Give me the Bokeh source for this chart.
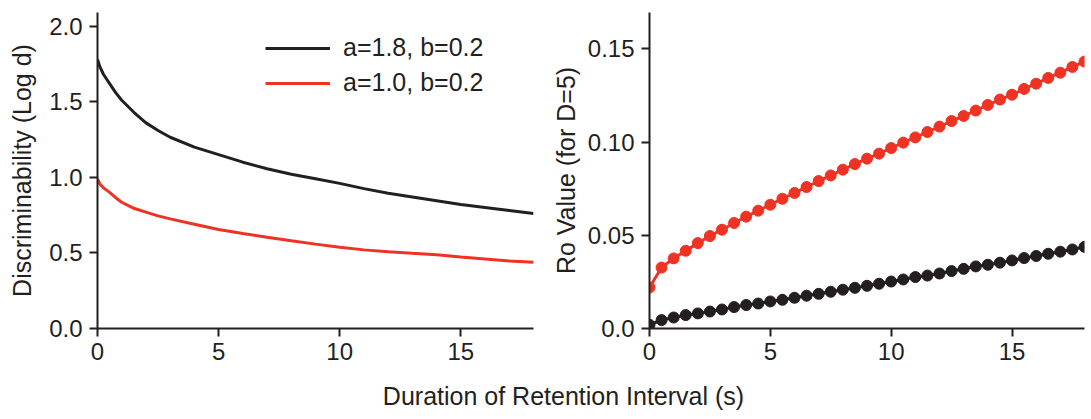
from bokeh.plotting import figure
from bokeh.layouts import row, column
from bokeh.models import Legend, LegendItem, Label, FixedTicker, Range1d, NumeralTickFormatter
from bokeh.embed import file_html
from bokeh.resources import INLINE

# ---- data ----
t_curve = [0, 0.1, 0.25, 0.5, 0.75, 1, 1.5, 2, 2.5, 3, 4, 5, 6, 7, 8, 9, 10, 11, 12, 13, 14, 15, 16, 17, 18]
disc_a18 = [1.78, 1.73, 1.68, 1.62, 1.56, 1.51, 1.43, 1.36, 1.31, 1.265, 1.20, 1.15, 1.10, 1.057, 1.02, 0.99,
            0.96, 0.925, 0.895, 0.87, 0.845, 0.82, 0.80, 0.78, 0.76]
disc_a10 = [0.99, 0.955, 0.93, 0.90, 0.865, 0.835, 0.795, 0.77, 0.745, 0.725, 0.69, 0.655, 0.628, 0.603, 0.58,
            0.558, 0.537, 0.52, 0.508, 0.497, 0.487, 0.473, 0.46, 0.447, 0.438]

t_dots = [0, 0.5, 1, 1.5, 2, 2.5, 3, 3.5, 4, 4.5, 5, 5.5, 6, 6.5, 7, 7.5, 8, 8.5, 9, 9.5, 10, 10.5, 11, 11.5,
          12, 12.5, 13, 13.5, 14, 14.5, 15, 15.5, 16, 16.5, 17, 17.5, 18]
ro_red = [0.022, 0.0327, 0.0376, 0.0417, 0.0458, 0.0496, 0.053, 0.0566, 0.060, 0.0632, 0.0664, 0.0696, 0.0727,
          0.0759, 0.0791, 0.0821, 0.0852, 0.0882, 0.0911, 0.0938, 0.0968, 0.0997, 0.1025, 0.1054, 0.1083, 0.1113,
          0.114, 0.1169, 0.1199, 0.1228, 0.1254, 0.1285, 0.1313, 0.1344, 0.1372, 0.1403, 0.1432]
ro_black = [0.002, 0.0045, 0.0059, 0.0072, 0.0081, 0.0091, 0.0102, 0.0115, 0.0126, 0.0134, 0.0145, 0.0154, 0.0165,
            0.0176, 0.0186, 0.0197, 0.0208, 0.0218, 0.0229, 0.024, 0.0252, 0.0263, 0.0276, 0.0284, 0.0295, 0.0308,
            0.032, 0.0333, 0.0342, 0.0353, 0.0365, 0.0378, 0.0389, 0.0401, 0.0412, 0.0424, 0.0438]

legend_labels = ["a=1.8, b=0.2", "a=1.0, b=0.2"]
x_ticks = [0, 5, 10, 15]
left_ticks = [0, 0.5, 1.0, 1.5, 2.0]
right_ticks = [0, 0.05, 0.10, 0.15]
right_tick_labels = ["0.0", "0.05", "0.10", "0.15"]

BLACK = "#231f20"
RED = "#ee3224"
FONT = "Liberation Sans"
TICK_FS = "24px"
LABEL_FS = "25px"


def style(p):
    p.grid.visible = False
    p.outline_line_color = None
    for ax in (p.xaxis[0], p.yaxis[0]):
        ax.axis_line_color = BLACK
        ax.axis_line_width = 2
        ax.major_tick_line_color = BLACK
        ax.major_tick_line_width = 2
        ax.major_tick_out = 8
        ax.major_tick_in = 0
        ax.minor_tick_line_color = None
        ax.major_label_text_font = FONT
        ax.major_label_text_font_size = TICK_FS
        ax.major_label_text_color = BLACK
        ax.axis_label_text_font = FONT
        ax.axis_label_text_font_size = LABEL_FS
        ax.axis_label_text_font_style = "normal"
        ax.axis_label_text_color = BLACK
    p.xaxis.ticker = FixedTicker(ticks=x_ticks)
    p.xaxis.major_label_standoff = 6
    p.yaxis.major_label_standoff = 7


# ---- left panel ----
p1 = figure(width=545, height=372, toolbar_location=None, output_backend="svg",
            x_range=Range1d(0, 18), y_range=Range1d(0, 2.09),
            min_border_left=97, min_border_right=12, min_border_top=12, min_border_bottom=44)
style(p1)
p1.yaxis.ticker = FixedTicker(ticks=left_ticks)
p1.yaxis.formatter = NumeralTickFormatter(format="0.0")
p1.yaxis.axis_label = "Discriminability (Log d)"
p1.yaxis.axis_label_standoff = 10
r_black = p1.line(t_curve, disc_a18, line_color=BLACK, line_width=3)
r_red = p1.line(t_curve, disc_a10, line_color=RED, line_width=3)
legend = Legend(items=[LegendItem(label=legend_labels[0], renderers=[r_black]),
                       LegendItem(label=legend_labels[1], renderers=[r_red])],
                location=(168, 231), padding=0, margin=0, spacing=6,
                glyph_width=65, glyph_height=20, label_height=20, label_standoff=13,
                border_line_color=None, background_fill_alpha=0,
                label_text_font=FONT, label_text_font_size="25px", label_text_color=BLACK)
p1.add_layout(legend)

# ---- right panel ----
p2 = figure(width=546, height=372, toolbar_location=None, output_backend="svg",
            x_range=Range1d(0, 18), y_range=Range1d(0, 0.1695),
            min_border_left=104, min_border_right=7, min_border_top=12, min_border_bottom=44)
style(p2)
p2.yaxis.ticker = FixedTicker(ticks=right_ticks)
p2.yaxis.major_label_overrides = {k: v for k, v in zip(right_ticks, right_tick_labels)}
p2.yaxis.axis_label = "Ro Value (for D=5)"
p2.yaxis.axis_label_standoff = 5
p2.line(t_dots, ro_red, line_color=RED, line_width=3)
p2.scatter(t_dots, ro_red, size=11, fill_color=RED, line_color=RED)
p2.line(t_dots, ro_black, line_color=BLACK, line_width=3)
p2.scatter(t_dots, ro_black, size=11, fill_color=BLACK, line_color=BLACK)

# ---- shared x label ----
p3 = figure(width=1091, height=47, toolbar_location=None, output_backend="svg",
            x_axis_location=None, y_axis_location=None, min_border=0,
            x_range=Range1d(0, 1), y_range=Range1d(0, 1))
p3.grid.visible = False
p3.outline_line_color = None
p3.add_layout(Label(x=563, y=23.5, x_units="screen", y_units="screen",
                    text="Duration of Retention Interval (s)", text_align="center", text_baseline="middle",
                    text_font=FONT, text_font_size="25px", text_color=BLACK))

layout = column(row(p1, p2), p3)
open("out.html", "w").write(file_html(layout, INLINE))
